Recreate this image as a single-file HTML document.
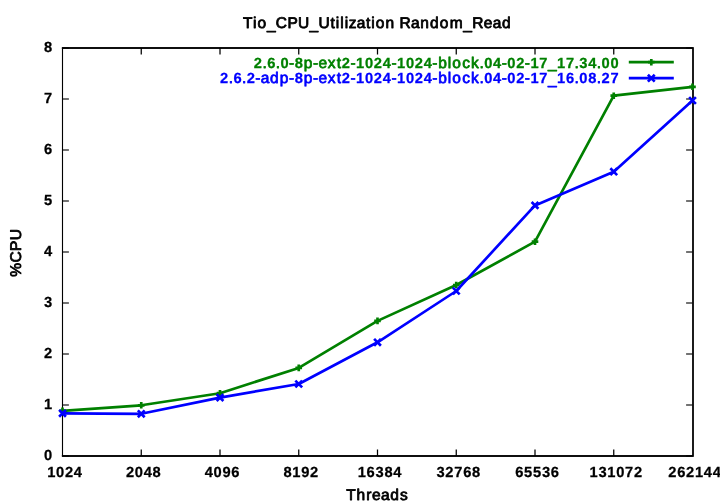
<!DOCTYPE html>
<html><head><meta charset="utf-8"><title>Tio_CPU_Utilization Random_Read</title>
<style>
html,body{margin:0;padding:0;background:#fff;}
body{width:720px;height:504px;overflow:hidden;}
svg{display:block;will-change:transform;}
text{font-family:"Liberation Sans",sans-serif;font-size:15.5px;font-weight:normal;fill:#000;stroke:#000;stroke-width:0.8px;stroke-linejoin:round;text-rendering:geometricPrecision;}
.d{font-weight:bold;font-size:14.7px;stroke-width:0.25px;}
</style></head><body>
<svg width="720" height="504" viewBox="0 0 720 504">
<rect x="0" y="0" width="720" height="504" fill="#fff"/>
<g stroke="#000" fill="none" stroke-width="1.33">
<path d="M62.5 456.0h6.4M692.5 456.0h-6.4M62.5 405.0h6.4M692.5 405.0h-6.4M62.5 354.0h6.4M692.5 354.0h-6.4M62.5 303.0h6.4M692.5 303.0h-6.4M62.5 252.0h6.4M692.5 252.0h-6.4M62.5 201.0h6.4M692.5 201.0h-6.4M62.5 150.0h6.4M692.5 150.0h-6.4M62.5 99.0h6.4M692.5 99.0h-6.4M62.5 48.0h6.4M692.5 48.0h-6.4" stroke="#444"/>
<path d="M141.25 456.0v-6.4M141.25 48.0v6.4M220.0 456.0v-6.4M220.0 48.0v6.4M298.75 456.0v-6.4M298.75 48.0v6.4M377.5 456.0v-6.4M377.5 48.0v6.4M456.25 456.0v-6.4M456.25 48.0v6.4M535.0 456.0v-6.4M535.0 48.0v6.4M613.75 456.0v-6.4M613.75 48.0v6.4" stroke="#000" stroke-width="1.25"/>
<path d="M61.9 48.0H693.66M61.9 456.0H693.66M693 48.0V456.0"/>
<path d="M61.9 48.0H693.66M61.9 456.0H693.66M693 48.0V456.0"/>
<path d="M62.5 48.0V456.0" stroke-width="1.12"/>
</g>
<text class="d" transform="translate(52.60 460.40)" x="-8.54" y="0">0</text>
<text class="d" transform="translate(52.60 409.40)" x="-8.54" y="0">1</text>
<text class="d" transform="translate(52.60 358.40)" x="-8.54" y="0">2</text>
<text class="d" transform="translate(52.60 307.40)" x="-8.54" y="0">3</text>
<text class="d" transform="translate(52.60 256.40)" x="-8.54" y="0">4</text>
<text class="d" transform="translate(52.60 205.40)" x="-8.54" y="0">5</text>
<text class="d" transform="translate(52.60 154.40)" x="-8.54" y="0">6</text>
<text class="d" transform="translate(52.60 103.40)" x="-8.54" y="0">7</text>
<text class="d" transform="translate(52.60 52.40)" x="-8.54" y="0">8</text>
<text class="d" transform="translate(64.60 476.90)" x="-17.44 -8.54 0.36 9.26" y="0">1024</text>
<text class="d" transform="translate(143.35 476.90)" x="-17.44 -8.54 0.36 9.26" y="0">2048</text>
<text class="d" transform="translate(222.10 476.90)" x="-17.44 -8.54 0.36 9.26" y="0">4096</text>
<text class="d" transform="translate(300.85 476.90)" x="-17.44 -8.54 0.36 9.26" y="0">8192</text>
<text class="d" transform="translate(379.60 476.90)" x="-21.88 -12.99 -4.09 4.81 13.71" y="0">16384</text>
<text class="d" transform="translate(458.35 476.90)" x="-21.88 -12.99 -4.09 4.81 13.71" y="0">32768</text>
<text class="d" transform="translate(537.10 476.90)" x="-21.88 -12.99 -4.09 4.81 13.71" y="0">65536</text>
<text class="d" transform="translate(615.85 476.90)" x="-26.33 -17.44 -8.54 0.36 9.26 18.16" y="0">131072</text>
<text class="d" transform="translate(694.60 476.90)" x="-26.33 -17.44 -8.54 0.36 9.26 18.16" y="0">262144</text>
<text transform="translate(377.00 28.40)" x="-134.09 -123.96 -119.44 -110.11 -101.17 -89.63 -78.94 -67.43 -58.49 -46.60 -41.28 -36.84 -32.39 -28.32 -20.31 -11.04 -5.72 -1.20 8.57 17.84 22.40 33.91 43.24 53.02 62.79 72.65 86.35 95.29 106.81 115.71 125.04" y="0 0 0 0.8 0 0 0 0.8 0 0 0 0 0 0 0 0 0 0 0 0 0 0 0 0 0 0 0.8 0 0 0 0" style="stroke-width:0.8px">Tio_CPU_Utilization Random_Read</text>
<text transform="translate(377.20 500.30)" x="-30.97 -20.77 -11.04 -5.21 3.69 13.03 22.80" y="0" style="stroke-width:0.8px">Threads</text>
<text transform="translate(20.50 252.90) rotate(-90)" x="-23.78 -9.60 1.94 12.63" y="0" style="stroke-width:0.8px">%CPU</text>
<text transform="translate(619.00 67.50)" x="-365.21 -356.60 -351.87 -343.26 -338.52 -329.90 -324.29 -315.18 -305.90 -300.52 -291.18 -282.35 -277.17 -268.55 -262.94 -254.04 -245.15 -236.25 -227.63 -222.02 -213.12 -204.22 -195.33 -186.71 -180.88 -171.19 -166.67 -156.89 -148.00 -139.60 -134.87 -125.97 -117.35 -111.74 -102.84 -94.22 -88.62 -79.72 -71.04 -61.92 -53.02 -44.41 -39.68 -30.78 -22.17 -17.44 -8.54" y="0 0 0 0 0 0 0 0 0 0 0 0 0 0 0 0 0 0 0 0 0 0 0 0 0 0 0 0 0 0 0 0 0 0 0 0 0 0 0.8 0 0 0 0 0 0 0 0" style="stroke-width:0.75px;fill:#008000;stroke:#008000"><tspan class="d">2</tspan>.<tspan class="d">6</tspan>.<tspan class="d">0</tspan>-<tspan class="d">8</tspan>p-ext<tspan class="d">2</tspan>-<tspan class="d">1024</tspan>-<tspan class="d">1024</tspan>-block.<tspan class="d">04</tspan>-<tspan class="d">02</tspan>-<tspan class="d">17</tspan>_<tspan class="d">17</tspan>.<tspan class="d">34</tspan>.<tspan class="d">00</tspan></text>
<text transform="translate(619.00 83.40)" x="-398.98 -390.38 -385.64 -377.03 -372.29 -363.67 -358.29 -348.95 -339.18 -329.90 -324.29 -315.18 -305.90 -300.52 -291.18 -282.35 -277.17 -268.55 -262.94 -254.04 -245.15 -236.25 -227.63 -222.02 -213.12 -204.22 -195.33 -186.71 -180.88 -171.19 -166.67 -156.89 -148.00 -139.60 -134.87 -125.97 -117.35 -111.74 -102.84 -94.22 -88.62 -79.72 -71.04 -61.92 -53.02 -44.41 -39.68 -30.78 -22.17 -17.44 -8.54" y="0 0 0 0 0 0 0 0 0 0 0 0 0 0 0 0 0 0 0 0 0 0 0 0 0 0 0 0 0 0 0 0 0 0 0 0 0 0 0 0 0 0 0.8 0 0 0 0 0 0 0 0" style="stroke-width:0.75px;fill:#0000ff;stroke:#0000ff"><tspan class="d">2</tspan>.<tspan class="d">6</tspan>.<tspan class="d">2</tspan>-adp-<tspan class="d">8</tspan>p-ext<tspan class="d">2</tspan>-<tspan class="d">1024</tspan>-<tspan class="d">1024</tspan>-block.<tspan class="d">04</tspan>-<tspan class="d">02</tspan>-<tspan class="d">17</tspan>_<tspan class="d">16</tspan>.<tspan class="d">08</tspan>.<tspan class="d">27</tspan></text>
<path d="M628.8 62.2H673.8" stroke="#008000" stroke-width="2.67"/>
<path d="M648.00 62.20H654.60M651.30 58.90V65.50" stroke="#008000" stroke-width="2.67" fill="none"/>
<path d="M628.8 78.2H673.8" stroke="#0000ff" stroke-width="2.67"/>
<path d="M647.90 74.80L654.70 81.60M647.90 81.60L654.70 74.80" stroke="#0000ff" stroke-width="2.67" fill="none"/>
<polyline points="62.50,410.80 141.25,405.30 220.00,393.20 298.75,367.90 377.50,320.90 456.25,285.00 535.00,241.70 613.75,95.70 692.50,86.80" fill="none" stroke="#008000" stroke-width="2.67" stroke-linejoin="round"/>
<path d="M59.20 410.80H65.80M62.50 407.50V414.10" stroke="#008000" stroke-width="2.67" fill="none"/>
<path d="M137.95 405.30H144.55M141.25 402.00V408.60" stroke="#008000" stroke-width="2.67" fill="none"/>
<path d="M216.70 393.20H223.30M220.00 389.90V396.50" stroke="#008000" stroke-width="2.67" fill="none"/>
<path d="M295.45 367.90H302.05M298.75 364.60V371.20" stroke="#008000" stroke-width="2.67" fill="none"/>
<path d="M374.20 320.90H380.80M377.50 317.60V324.20" stroke="#008000" stroke-width="2.67" fill="none"/>
<path d="M452.95 285.00H459.55M456.25 281.70V288.30" stroke="#008000" stroke-width="2.67" fill="none"/>
<path d="M531.70 241.70H538.30M535.00 238.40V245.00" stroke="#008000" stroke-width="2.67" fill="none"/>
<path d="M610.45 95.70H617.05M613.75 92.40V99.00" stroke="#008000" stroke-width="2.67" fill="none"/>
<path d="M689.20 86.80H695.80M692.50 83.50V90.10" stroke="#008000" stroke-width="2.67" fill="none"/>
<polyline points="62.50,413.30 141.25,413.80 220.00,397.60 298.75,384.00 377.50,342.30 456.25,291.00 535.00,205.40 613.75,171.70 692.50,100.50" fill="none" stroke="#0000ff" stroke-width="2.67" stroke-linejoin="round"/>
<path d="M59.10 409.90L65.90 416.70M59.10 416.70L65.90 409.90" stroke="#0000ff" stroke-width="2.67" fill="none"/>
<path d="M137.85 410.40L144.65 417.20M137.85 417.20L144.65 410.40" stroke="#0000ff" stroke-width="2.67" fill="none"/>
<path d="M216.60 394.20L223.40 401.00M216.60 401.00L223.40 394.20" stroke="#0000ff" stroke-width="2.67" fill="none"/>
<path d="M295.35 380.60L302.15 387.40M295.35 387.40L302.15 380.60" stroke="#0000ff" stroke-width="2.67" fill="none"/>
<path d="M374.10 338.90L380.90 345.70M374.10 345.70L380.90 338.90" stroke="#0000ff" stroke-width="2.67" fill="none"/>
<path d="M452.85 287.60L459.65 294.40M452.85 294.40L459.65 287.60" stroke="#0000ff" stroke-width="2.67" fill="none"/>
<path d="M531.60 202.00L538.40 208.80M531.60 208.80L538.40 202.00" stroke="#0000ff" stroke-width="2.67" fill="none"/>
<path d="M610.35 168.30L617.15 175.10M610.35 175.10L617.15 168.30" stroke="#0000ff" stroke-width="2.67" fill="none"/>
<path d="M689.10 97.10L695.90 103.90M689.10 103.90L695.90 97.10" stroke="#0000ff" stroke-width="2.67" fill="none"/>
</svg></body></html>
